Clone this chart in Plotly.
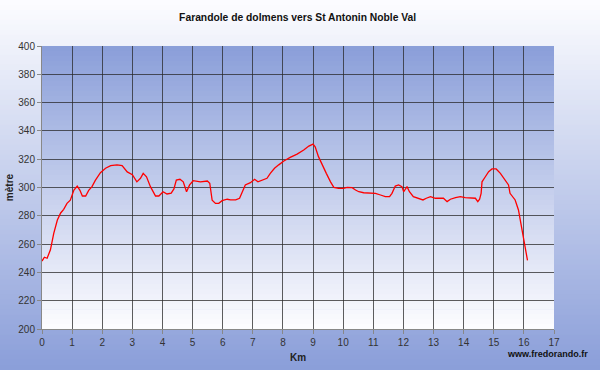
import plotly.graph_objects as go

# ---- data ----
km = [0.0, 0.08, 0.17, 0.28, 0.39, 0.51, 0.62, 0.72, 0.83, 0.94, 1.06, 1.17, 1.26, 1.34, 1.45,
      1.55, 1.66, 1.77, 1.94, 2.11, 2.28, 2.49, 2.66, 2.83, 3.0, 3.15, 3.27, 3.36, 3.47, 3.6,
      3.77, 3.88, 4.02, 4.15, 4.29, 4.38, 4.46, 4.58, 4.69, 4.8, 4.9, 5.02, 5.26, 5.49, 5.57,
      5.62, 5.65, 5.76, 5.87, 5.98, 6.15, 6.26, 6.43, 6.56, 6.64, 6.75, 6.92, 7.06, 7.17, 7.3,
      7.47, 7.58, 7.72, 7.86, 8.03, 8.24, 8.47, 8.69, 8.86, 9.0, 9.07, 9.18, 9.3, 9.44, 9.58,
      9.69, 9.85, 10.01, 10.13, 10.3, 10.41, 10.52, 10.68, 10.9, 11.07, 11.24, 11.4, 11.54, 11.62,
      11.73, 11.84, 11.95, 12.01, 12.12, 12.2, 12.33, 12.5, 12.65, 12.76, 12.9, 13.06, 13.33,
      13.45, 13.56, 13.73, 13.89, 14.05, 14.22, 14.39, 14.47, 14.53, 14.58, 14.61, 14.72, 14.83,
      14.94, 15.08, 15.22, 15.39, 15.49, 15.54, 15.71, 15.82, 15.9, 15.99, 16.05, 16.12]
altitude = [248, 250.7, 250, 256, 267.6, 277, 282, 284.6, 288.8, 291, 298.2, 301, 298, 294, 294,
            298, 300.6, 305, 310.5, 313.6, 315.4, 316, 315.4, 311, 309, 304, 306.5, 310, 307.6, 300.6,
            294, 294, 297, 295.4, 296, 299, 305.3, 305.8, 304, 297, 301.8, 304.8, 304, 304.6, 303,
            297, 291, 288.8, 288.8, 290.7, 291.7, 291.2, 291.2, 292.4, 297, 301.8, 303.4, 305.8, 304, 305.3,
            306.5, 310, 313.6, 316, 318.7, 321.3, 323.6, 326.5, 329.3, 330.7, 328.8, 321.8, 316, 310, 304,
            300.1, 299.4, 299.4, 300.1, 299.9, 298.2, 297, 296.3, 296.3, 295.9, 294.7, 293.5, 293.5, 295.9,
            301, 301.8, 300.6, 297, 300.6, 297, 293.5, 292.4, 291.2, 292.4, 293.5, 292.4, 292.4,
            290, 291.7, 292.8, 293.5, 292.8, 292.8, 292.4, 290, 291.7, 295.9, 304, 307.6, 311.2,
            313.1, 313.1, 310, 305.3, 301.8, 295.9, 291.2, 284.1, 274.7, 263, 256, 248.5]

title_text = "Farandole de dolmens vers St Antonin Noble Val"
x_title = "Km"
y_title = "mètre"
credit = "www.fredorando.fr"
x_ticks = list(range(0, 18))
y_ticks = list(range(200, 401, 20))

# ---- layout geometry ----
W, H = 600, 370
ML, MR, MT, MB = 41.5, 46.2, 46.3, 40.7
plot_w = W - ML - MR
plot_h = H - MT - MB

BLUE = (138, 158, 217)
WHITE = (253, 253, 255)


def mix(a, b, t):
    return "rgb(%d,%d,%d)" % tuple(round(a[i] + (b[i] - a[i]) * t) for i in range(3))


shapes = []
# page gradient: white at top -> blue at bottom (paper coords extended to full page)
N = 74
for i in range(N):
    py0 = H * i / N
    py1 = H * (i + 1) / N + 0.6
    y0 = 1 - (py0 - MT) / plot_h
    y1 = 1 - (py1 - MT) / plot_h
    shapes.append(dict(type="rect", xref="paper", yref="paper", x0=-0.2, x1=1.2,
                       y0=y1, y1=y0, fillcolor=mix(WHITE, BLUE, (i + 0.5) / N),
                       line=dict(width=0), layer="below"))
# plot gradient: blue at top -> white at bottom (axis coords)
M = 57
for i in range(M):
    ya = 400 - 200 * i / M
    yb = 400 - 200 * (i + 1) / M - 0.5
    shapes.append(dict(type="rect", xref="x", yref="y", x0=0, x1=17,
                       y0=yb, y1=ya, fillcolor=mix(BLUE, WHITE, (i + 0.5) / M),
                       line=dict(width=0), layer="below"))

FONT = "Liberation Sans, Arial, sans-serif"

fig = go.Figure()
fig.add_trace(go.Scatter(x=km, y=altitude, mode="lines",
                         line=dict(color="#ff0000", width=1.3), hoverinfo="skip",
                         showlegend=False))

fig.update_layout(
    width=W, height=H,
    margin=dict(l=ML, r=MR, t=MT, b=MB, pad=0, autoexpand=False),
    paper_bgcolor="white",
    plot_bgcolor="white",
    shapes=shapes,
    font=dict(family=FONT, size=10, color="#333333"),
    title=dict(text="<b>" + title_text + "</b>", x=(ML + plot_w / 2) / W, xanchor="center",
               y=1 - 17 / H, yanchor="middle", font=dict(size=10.3, color="#111111")),
    xaxis=dict(range=[0, 17], tickvals=x_ticks, showgrid=True, automargin=False,
               gridcolor="rgba(40,40,40,0.75)", gridwidth=1,
               showline=True, linecolor="#888888", linewidth=1,
               ticks="outside", ticklen=4, tickcolor="#888888",
               zeroline=False, fixedrange=True,
               title=dict(text="<b>" + x_title + "</b>", standoff=6,
                          font=dict(size=10, color="#222222"))),
    yaxis=dict(range=[200, 400], tickvals=y_ticks, showgrid=True, automargin=False,
               gridcolor="rgba(40,40,40,0.75)", gridwidth=1,
               showline=True, linecolor="#888888", linewidth=1,
               ticks="outside", ticklen=4, tickcolor="#888888",
               zeroline=False, fixedrange=True,
               title=dict(text="<b>" + y_title + "</b>", standoff=2,
                          font=dict(size=10, color="#222222"))),
    annotations=[dict(text="<b>" + credit + "</b>", xref="paper", yref="paper",
                      x=(590 - ML) / plot_w, y=-(354 - (H - MB)) / plot_h,
                      xanchor="right", yanchor="middle", showarrow=False,
                      font=dict(size=9, color="#111111"))],
)

fig.write_html("out.html", config=dict(displayModeBar=False),
               post_script="document.body.style.margin='0';document.body.style.overflow='hidden';")
